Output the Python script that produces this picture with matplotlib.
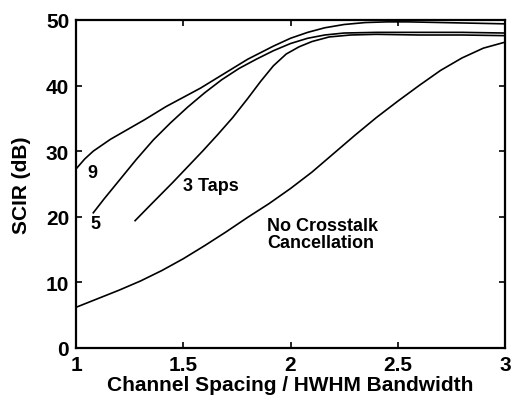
"""
Crosstalk-cancellation SCIR versus normalised channel spacing.
"""
import matplotlib
matplotlib.use("Agg")
import matplotlib.pyplot as plt

# curves
x_9 = [1.00, 1.04, 1.08, 1.12, 1.16, 1.24, 1.32, 1.42, 1.50, 1.58, 1.66, 1.73,
       1.80, 1.86, 1.92, 2.00, 2.08, 2.16, 2.25, 2.35, 2.45, 2.55, 2.70, 2.85, 3.00]
y_9 = [27.3, 28.8, 30.0, 30.9, 31.8, 33.3, 34.8, 36.8, 38.2, 39.6, 41.2, 42.6,
       44.0, 45.0, 46.0, 47.2, 48.1, 48.8, 49.3, 49.6, 49.7, 49.7, 49.6, 49.5, 49.4]

x_5 = [1.08, 1.13, 1.20, 1.28, 1.36, 1.44, 1.52, 1.60, 1.68, 1.76, 1.84, 1.92,
       2.00, 2.08, 2.16, 2.25, 2.40, 2.60, 2.80, 3.00]
y_5 = [20.6, 22.7, 25.5, 28.7, 31.7, 34.3, 36.7, 38.9, 40.9, 42.6, 44.0, 45.3,
       46.4, 47.2, 47.7, 48.0, 48.1, 48.1, 48.1, 48.0]

x_3 = [1.275, 1.35, 1.45, 1.52, 1.59, 1.66, 1.73, 1.80, 1.86, 1.92, 1.98, 2.04,
       2.10, 2.18, 2.28, 2.40, 2.60, 2.80, 3.00]
y_3 = [19.4, 21.9, 25.2, 27.6, 30.0, 32.5, 35.1, 38.0, 40.6, 43.0, 44.8, 45.9,
       46.7, 47.4, 47.7, 47.8, 47.7, 47.7, 47.6]

x_none = [1.00, 1.10, 1.20, 1.30, 1.40, 1.50, 1.60, 1.70, 1.80, 1.90, 2.00,
          2.10, 2.20, 2.30, 2.40, 2.50, 2.60, 2.70, 2.80, 2.90, 3.00]
y_none = [6.2, 7.5, 8.8, 10.2, 11.8, 13.6, 15.6, 17.7, 19.9, 22.0, 24.3,
          26.8, 29.6, 32.4, 35.1, 37.6, 40.0, 42.3, 44.2, 45.7, 46.6]

x_ticks = [1, 1.5, 2, 2.5, 3]
x_ticklabels = ["1", "1.5", "2", "2.5", "3"]
y_ticks = [0, 10, 20, 30, 40, 50]

plt.rcParams["font.family"] = ["Liberation Sans", "DejaVu Sans"]
plt.rcParams["font.weight"] = "bold"

fig = plt.figure(figsize=(5.11, 4.02), dpi=100)
ax = fig.add_axes([0.149, 0.132, 0.839, 0.816])

for xs, ys in [(x_9, y_9), (x_5, y_5), (x_3, y_3), (x_none, y_none)]:
    ax.plot(xs, ys, color="black", linewidth=1.2)

ax.set_xlim(1, 3)
ax.set_ylim(0, 50)
ax.set_xticks(x_ticks)
ax.set_xticklabels(x_ticklabels)
ax.set_yticks(y_ticks)
ax.tick_params(direction="in", length=4, width=1.2, top=True, right=True,
               labelsize=15, pad=5)
for s in ax.spines.values():
    s.set_linewidth(1.6)

ax.set_xlabel("Channel Spacing / HWHM Bandwidth", fontsize=15, fontweight="bold",
              labelpad=1)
ax.set_ylabel("SCIR (dB)", fontsize=15, fontweight="bold", labelpad=11)

lbl = dict(fontsize=13, fontweight="bold", va="center")
ax.text(1.075, 26.8, "9", ha="center", **lbl)
ax.text(1.09, 18.9, "5", ha="center", **lbl)
ax.text(1.50, 24.7, "3 Taps", ha="left", **lbl)
ax.text(1.89, 17.3, "No Crosstalk\nCancellation", ha="left", linespacing=1.0, **lbl)

fig.savefig("out.png", dpi=100)
